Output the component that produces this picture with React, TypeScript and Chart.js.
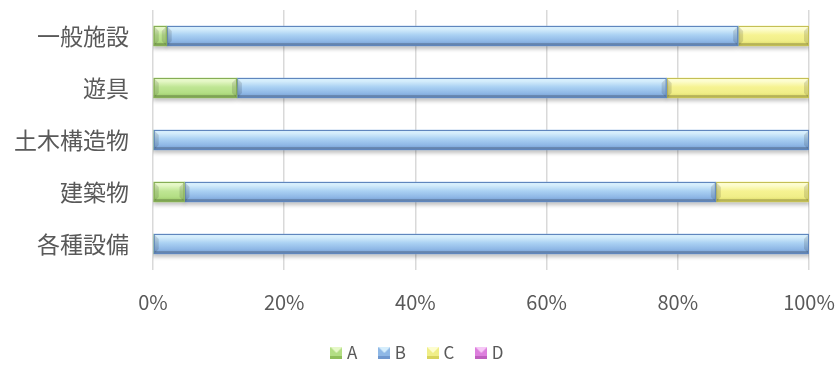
import React, { useEffect, useRef } from "react";
import { Chart, registerables } from "chart.js";

Chart.register(...registerables);

const categories = ["一般施設", "遊具", "土木構造物", "建築物", "各種設備"];
const seriesNames = ["A", "B", "C", "D"];
const valuesA = [2.1, 12.8, 0, 4.8, 0];
const valuesB = [87.1, 65.5, 100, 81.0, 100];
const valuesC = [10.8, 21.7, 0, 14.2, 0];
const valuesD = [0, 0, 0, 0, 0];
const xTicks = ["0%", "20%", "40%", "60%", "80%", "100%"];

const palettes = [
  { top: "#e6f8c8", mid: "#bfe694", bot: "#8fbf5a", border: "#86ad55", base: "#b3de84" },
  { top: "#d6eefc", mid: "#aad1f3", bot: "#7098cf", border: "#5f86bd", base: "#8fb8e6" },
  { top: "#fdfdd0", mid: "#f6f392", bot: "#d8d45c", border: "#c4bf55", base: "#f0ee88" },
  { top: "#f6c8f6", mid: "#e690e6", bot: "#bf5fbf", border: "#b050b0", base: "#dd7fdd" },
];

const bevelPlugin = {
  id: "bevel",
  beforeDatasetDraw(chart: any) {
    const ctx = chart.ctx;
    ctx.save();
    ctx.shadowColor = "rgba(0,0,0,0.25)";
    ctx.shadowBlur = 4;
    ctx.shadowOffsetY = 3;
  },
  afterDatasetDraw(chart: any, args: any) {
    const ctx = chart.ctx;
    ctx.restore();
    const p = palettes[args.index];
    args.meta.data.forEach((bar: any) => {
      const props = bar.getProps(["x", "y", "base", "height"], true);
      const left = Math.min(props.x, props.base);
      const right = Math.max(props.x, props.base);
      const w = right - left;
      if (w < 0.5) return;
      const top = props.y - props.height / 2;
      const h = props.height;
      const g = ctx.createLinearGradient(0, top, 0, top + h);
      g.addColorStop(0, p.top);
      g.addColorStop(0.15, p.top);
      g.addColorStop(0.45, p.mid);
      g.addColorStop(0.75, p.base);
      g.addColorStop(1, p.bot);
      ctx.save();
      ctx.fillStyle = g;
      ctx.fillRect(left, top, w, h);
      const b = Math.min(5, w / 2);
      ctx.fillStyle = "rgba(0,0,0,0.12)";
      ctx.beginPath();
      ctx.moveTo(left, top);
      ctx.lineTo(left + b, top + b);
      ctx.lineTo(left + b, top + h - b);
      ctx.lineTo(left, top + h);
      ctx.closePath();
      ctx.fill();
      ctx.beginPath();
      ctx.moveTo(right, top);
      ctx.lineTo(right - b, top + b);
      ctx.lineTo(right - b, top + h - b);
      ctx.lineTo(right, top + h);
      ctx.closePath();
      ctx.fill();
      ctx.fillStyle = "rgba(0,0,0,0.18)";
      ctx.fillRect(left, top + h - 3, w, 3);
      ctx.strokeStyle = p.border;
      ctx.lineWidth = 1;
      ctx.strokeRect(left + 0.5, top + 0.5, w - 1, h - 1);
      ctx.restore();
    });
  },
};

function legendSwatch(p: any) {
  const c = document.createElement("canvas");
  c.width = 12;
  c.height = 12;
  const x = c.getContext("2d")!;
  x.fillStyle = p.base;
  x.fillRect(0, 0, 12, 12);
  x.fillStyle = p.top;
  x.beginPath();
  x.moveTo(0, 0);
  x.lineTo(12, 0);
  x.lineTo(6, 6);
  x.closePath();
  x.fill();
  x.fillStyle = p.bot;
  x.fillRect(0, 9, 12, 3);
  return c;
}

export default function App() {
  const ref = useRef<HTMLCanvasElement>(null);
  useEffect(() => {
    const all = [valuesA, valuesB, valuesC, valuesD];
    const chart = new Chart(ref.current!, {
      type: "bar",
      data: {
        labels: categories,
        datasets: seriesNames.map((n, i) => ({
          label: n,
          data: all[i],
          backgroundColor: palettes[i].base,
          borderWidth: 0,
          barThickness: 20,
        })),
      },
      plugins: [bevelPlugin],
      options: {
        indexAxis: "y",
        animation: false,
        responsive: false,
        layout: { padding: { left: 0, right: 0, top: 10, bottom: -6.5 } },
        scales: {
          x: {
            stacked: true,
            min: 0,
            max: 100,
            grid: { color: "#d9d9d9", drawTicks: false, lineWidth: 1.5 },
            border: { display: false },
            afterFit: (s: any) => {
              s.paddingLeft = 0;
              s.paddingRight = 29;
              s.height = 49.5;
            },
            ticks: {
              stepSize: 20,
              padding: 20,
              color: "#595959",
              font: { family: "'Noto Sans CJK JP', 'Noto Sans'", size: 20 },
              callback: (v: any) => xTicks[Math.round(Number(v) / 20)],
            },
          },
          y: {
            stacked: true,
            grid: { display: false, drawTicks: false },
            border: { display: false },
            afterFit: (s: any) => {
              s.paddingTop = 0;
              s.paddingBottom = 0;
              s.width = 153;
            },
            ticks: {
              padding: 24,
              color: "#595959",
              font: { family: "'Noto Sans CJK JP'", size: 23 },
            },
          },
        },
        plugins: {
          legend: {
            position: "bottom",
            labels: {
              color: "#595959",
              font: { family: "'Noto Sans CJK JP', 'Noto Sans'", size: 17 },
              boxWidth: 4,
              boxHeight: 12,
              padding: 25,
              usePointStyle: true,
              generateLabels: () =>
                seriesNames.map((n, i) => ({
                  text: n,
                  datasetIndex: i,
                  pointStyle: legendSwatch(palettes[i]),
                  fillStyle: palettes[i].base,
                  strokeStyle: palettes[i].base,
                  lineWidth: 0,
                  fontColor: "#595959",
                  hidden: false,
                })),
            },
          },
          tooltip: { enabled: false },
        },
      },
    } as any);
    return () => chart.destroy();
  }, []);
  return (
    <div style={{ position: "fixed", left: 0, top: 0, width: 838, height: 365, background: "#fff" }}>
      <canvas ref={ref} width={838} height={365} />
    </div>
  );
}
